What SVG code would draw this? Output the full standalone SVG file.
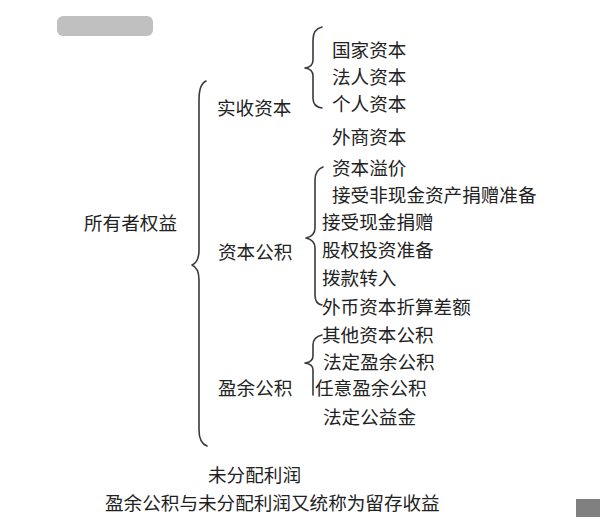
<svg xmlns="http://www.w3.org/2000/svg" width="600" height="519" viewBox="0 0 600 519">
<style>
text{font-family:"Noto Sans CJK SC","Noto Sans",sans-serif;font-size:18.6px;fill:#222}
.br{fill:none;stroke:#3a3a3a;stroke-width:1.6;stroke-linecap:round;stroke-linejoin:round}
</style>
<rect width="600" height="519" fill="#fff"/>
<rect x="57" y="16" width="96" height="20" rx="6" fill="#c0c0c0"/>
<rect x="576" y="499" width="24" height="18" fill="#808080"/>
<g id="connectors">
<path class="br" d="M206,81 Q199,84 199,100 L199,250 Q199,262 192,265 Q199,268 199,280 L199,430 Q199,443 207,446"/>
<path class="br" d="M322,27 Q313,29 313,40 L313,60 Q313,67 305,68 Q313,69 313,76 L313,98 Q313,107 322,108"/>
<path class="br" d="M323,167 Q315,170 315,180 L315,228 Q315,236 306,238 Q315,240 315,248 L315,295 Q315,304 322,305"/>
<path class="br" d="M322,335 Q313,337 313,345 L313,356 Q313,362 305,363 Q313,364 313,370 L313,395"/>
</g>
<g id="root"><text x="84" y="230">所有者权益</text></g>
<g id="shishou"><text x="217" y="115">实收资本</text></g>
<g id="zibengongji"><text x="218" y="259">资本公积</text></g>
<g id="yingyu"><text x="218" y="395">盈余公积</text></g>
<g id="guojia"><text x="332" y="57">国家资本</text></g>
<g id="faren"><text x="332" y="84">法人资本</text></g>
<g id="geren"><text x="332" y="111">个人资本</text></g>
<g id="waishang"><text x="332" y="144">外商资本</text></g>
<g id="yijia"><text x="332" y="175">资本溢价</text></g>
<g id="feixianjin"><text x="332" y="202">接受非现金资产捐赠准备</text></g>
<g id="xianjin"><text x="322" y="229">接受现金捐赠</text></g>
<g id="guquan"><text x="322" y="257">股权投资准备</text></g>
<g id="bokuan"><text x="322" y="285">拨款转入</text></g>
<g id="waibi"><text x="322" y="314">外币资本折算差额</text></g>
<g id="qita"><text x="322" y="342">其他资本公积</text></g>
<g id="fading"><text x="323" y="369">法定盈余公积</text></g>
<g id="renyi"><text x="315" y="395">任意盈余公积</text></g>
<g id="gongyi"><text x="323" y="424">法定公益金</text></g>
<g id="weifenpei"><text x="208" y="482">未分配利润</text></g>
<g id="note"><text x="105" y="510">盈余公积与未分配利润又统称为留存收益</text></g>
</svg>
